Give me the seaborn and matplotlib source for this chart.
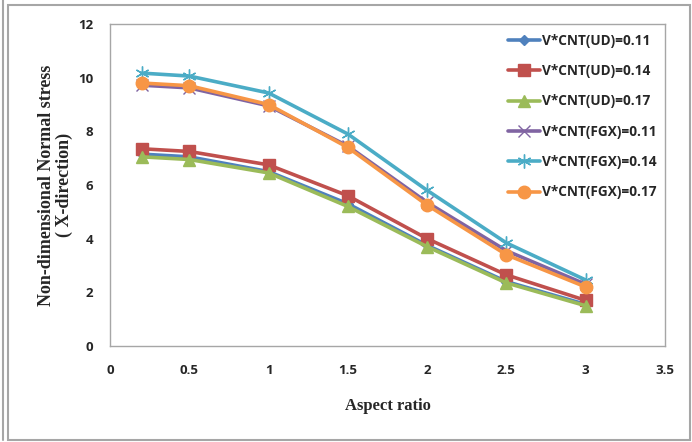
import seaborn as sns
import matplotlib.pyplot as plt
import pandas as pd
from matplotlib.patches import Rectangle
from matplotlib.lines import Line2D

aspect_ratio = [0.2, 0.5, 1, 1.5, 2, 2.5, 3]
ud_011 = [7.15, 7.05, 6.50, 5.30, 3.75, 2.40, 1.55]
ud_014 = [7.35, 7.25, 6.75, 5.60, 4.00, 2.65, 1.70]
ud_017 = [7.05, 6.95, 6.45, 5.20, 3.70, 2.35, 1.50]
fgx_011 = [9.72, 9.62, 8.95, 7.45, 5.35, 3.55, 2.30]
fgx_014 = [10.17, 10.06, 9.43, 7.90, 5.80, 3.84, 2.46]
fgx_017 = [9.80, 9.70, 9.00, 7.40, 5.25, 3.40, 2.20]

series = {
    'V*CNT(UD)=0.11': ud_011,
    'V*CNT(UD)=0.14': ud_014,
    'V*CNT(UD)=0.17': ud_017,
    'V*CNT(FGX)=0.11': fgx_011,
    'V*CNT(FGX)=0.14': fgx_014,
    'V*CNT(FGX)=0.17': fgx_017,
}
names = list(series)
rows = []
for name, vals in series.items():
    for x, y in zip(aspect_ratio, vals):
        rows.append({'ar': x, 'stress': y, 'case': name})
df = pd.DataFrame(rows)

palette = dict(zip(names, ['#4F81BD', '#C0504D', '#9BBB59', '#8064A2', '#4BACC6', '#F79646']))
markers = dict(zip(names, ['D', 's', '^', 'x', (6, 2, 0), 'o']))
msizes = dict(zip(names, [5, 8, 8, 8, 10, 9]))

sns.set_style("white")

fig = plt.figure(figsize=(6.92, 4.42), dpi=100)
ax = fig.add_axes([110/692, 1-346/442, (665-110)/692, (346-24)/442])

# draw in this order so green lies on top of blue, as in the picture
for name in names:
    sub = df[df['case'] == name]
    sns.lineplot(data=sub, x='ar', y='stress', color=palette[name], marker=markers[name],
                 markersize=msizes[name], markeredgecolor=palette[name], markeredgewidth=1,
                 linewidth=2.6, ax=ax, label=name, sort=False)

ax.set_xlim(0, 3.5)
ax.set_ylim(0, 12)
ax.set_xticks([0, 0.5, 1, 1.5, 2, 2.5, 3, 3.5])
ax.set_xticklabels(['0', '0.5', '1', '1.5', '2', '2.5', '3', '3.5'])
ax.set_yticks([0, 2, 4, 6, 8, 10, 12])
for lab in ax.get_xticklabels() + ax.get_yticklabels():
    lab.set_fontfamily('Open Sans')
    lab.set_fontweight('bold')
    lab.set_fontsize(9.5)
ax.tick_params(axis='x', pad=13, length=0)
ax.tick_params(axis='y', pad=12, length=0)
for s in ax.spines.values():
    s.set_color('#A6A6A6')
    s.set_linewidth(1)

ax.set_xlabel('Aspect ratio', fontfamily='Liberation Serif', fontweight='bold', fontsize=12, labelpad=15)
ax.set_ylabel('Non-dimensional Normal stress\n( X-direction)', fontfamily='Liberation Serif',
              fontweight='bold', fontsize=13, labelpad=4, linespacing=1.05)

handles = [Line2D([], [], color=palette[n], marker=markers[n], markersize=msizes[n],
                  markeredgecolor=palette[n], linewidth=2.6) for n in names]
leg = ax.legend(handles, names, loc='upper left', bbox_to_anchor=(386/555, 1.008),
                frameon=False, handlelength=2.3, handletextpad=0.15, labelspacing=1.2,
                prop={'family': 'Open Sans', 'weight': 'bold', 'size': 9.8})

# chart frame
fig.patches.append(Rectangle((8/692, 2/442), 682/692, 435/442, transform=fig.transFigure,
                             fill=False, edgecolor='#A6A6A6', linewidth=1.5))
fig.lines.append(Line2D([3/692, 3/692], [2/442, 1], transform=fig.transFigure,
                        color='#A6A6A6', linewidth=1.5))

plt.savefig('out.png', dpi=100)
